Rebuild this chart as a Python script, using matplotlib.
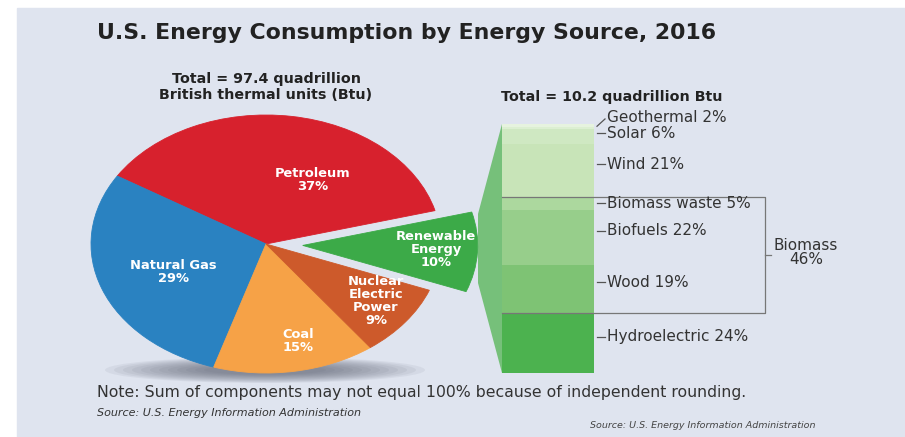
import matplotlib
matplotlib.use("Agg")
import matplotlib.pyplot as plt
import numpy as np
from matplotlib.patches import Rectangle, Ellipse, Polygon
from matplotlib.transforms import blended_transform_factory

# data
sources = ["Petroleum", "Natural Gas", "Coal", "Nuclear\nElectric\nPower", "Renewable\nEnergy"]
shares = [37, 29, 15, 9, 10]
pie_colors = ["#d7212d", "#2a82c1", "#f6a247", "#cd5a2b", "#3caa48"]

renew_names = ["Geothermal", "Solar", "Wind", "Biomass waste", "Biofuels", "Wood", "Hydroelectric"]
renew_shares = [2, 6, 21, 5, 22, 19, 24]
renew_colors = ["#dcefd2", "#cfe8c2", "#c8e4b8", "#acd89e", "#97ce8b", "#7ec374", "#4cb24f"]
biomass_total = 46

W, H = 905, 437
BG = "#dfe4ef"

fig = plt.figure(figsize=(W / 100, H / 100), dpi=100)
fig.patch.set_facecolor("white")

# background axes in pixel coords
ax = fig.add_axes([0, 0, 1, 1])
ax.set_xlim(0, W)
ax.set_ylim(H, 0)
ax.axis("off")
ax.add_patch(Rectangle((17, 8), W - 17, H - 8, color=BG, zorder=0))

# soft shadow below the pie
for i in range(12):
    ax.add_patch(Ellipse((265, 370), 320 - i * 18, 26 - i * 1.5,
                         color="#4f5464", alpha=0.07, lw=0, zorder=1))

# pie, squashed into an ellipse
cx, cy, rx, ry = 266, 244, 175, 129
pax = fig.add_axes([0, 0, 1, 1], zorder=2)
pax.pie(shares, colors=pie_colors, startangle=15, counterclock=True,
        explode=[0, 0, 0, 0, 0.21], wedgeprops=dict(linewidth=0.6))
for w in pax.patches:
    w.set_edgecolor(w.get_facecolor())
pax.set_aspect("auto")
pax.set_xlim(-cx / rx, (W - cx) / rx)
pax.set_ylim((cy - H) / ry, cy / ry)
pax.axis("off")

# connector from renewable wedge to the bar
bx0, bx1, by0, by1 = 502, 594, 124, 373
ax.add_patch(Polygon([(478, 214), (bx0, by0), (bx0, by1), (478, 283)],
                     closed=True, color="#76c07a", lw=0, zorder=1.5))

# stacked bar of renewable breakdown
bax = fig.add_axes([bx0 / W, 1 - by1 / H, (bx1 - bx0) / W, (by1 - by0) / H], zorder=3)
bottoms = np.concatenate([[0], np.cumsum(renew_shares)[:-1]])
bax.bar(0, renew_shares, bottom=bottoms, width=1, color=renew_colors, linewidth=0)
bax.set_xlim(-0.5, 0.5)
bax.set_ylim(sum(renew_shares), 0)
bax.axis("off")
bax.add_patch(Rectangle((-0.5, 0), 1, 1.2, color="#e6f3df", lw=0))

# overlay axes for text and lines
tax = fig.add_axes([0, 0, 1, 1], zorder=10)
tax.set_xlim(0, W)
tax.set_ylim(H, 0)
tax.axis("off")

# pie labels
lab_pos = [(313, 180), (173, 272), (298, 341), (376, 301), (436, 250)]
for name, val, (x, y) in zip(sources, shares, lab_pos):
    tax.text(x, y, f"{name}\n{val}%", color="white", fontsize=9.4, fontweight="bold",
             ha="center", va="center", linespacing=1.0)

# labels on the bar
tr = blended_transform_factory(tax.transData, bax.transData)
centers = bottoms + np.array(renew_shares) / 2
lab_y = list(centers - 2.5)
lab_y[0] = -2.6
lab_y[1] = 3.6
lab_y[3] = centers[3]
for i, (name, val) in enumerate(zip(renew_names, renew_shares)):
    y = lab_y[i]
    if i == 0:
        tax.plot([597, 605], [0.9, -2.0], color="#555", lw=0.9, transform=tr)
    else:
        tax.plot([597, 605], [y, y], color="#555", lw=0.9, transform=tr)
    tax.text(607, y, f"{name} {val}%", transform=tr, fontsize=11, color="#333",
             va="center", ha="left")

# biomass bracket
b_top = bottoms[3]
b_bot = bottoms[5] + renew_shares[5]
tax.plot([bx0, 765, 765, bx0], [b_top, b_top, b_bot, b_bot], color="#777",
         lw=0.9, transform=tr)
b_mid = (b_top + b_bot) / 2
tax.plot([765, 771], [b_mid, b_mid], color="#777", lw=0.9, transform=tr)
tax.text(806, b_mid - 1, f"Biomass\n{biomass_total}%", transform=tr, fontsize=11,
         color="#333", ha="center", va="center", linespacing=0.95)

# titles and notes
tax.text(97, 33, "U.S. Energy Consumption by Energy Source, 2016", fontsize=15.8,
         fontweight="bold", color="#222", va="center", ha="left")
tax.text(266, 87, "Total = 97.4 quadrillion\nBritish thermal units (Btu)", fontsize=10.3,
         fontweight="bold", color="#222", ha="center", va="center", linespacing=1.25)
tax.text(612, 97, "Total = 10.2 quadrillion Btu", fontsize=10.3, fontweight="bold",
         color="#222", ha="center", va="center")
tax.text(97, 393, "Note: Sum of components may not equal 100% because of independent rounding.",
         fontsize=11.3, color="#333", va="center", ha="left")
tax.text(97, 413, "Source: U.S. Energy Information Administration", fontsize=8,
         style="italic", color="#333", va="center", ha="left")
tax.text(590, 426, "Source: U.S. Energy Information Administration", fontsize=6.8,
         style="italic", color="#444", va="center", ha="left")

fig.savefig("out.png", dpi=100, facecolor=fig.get_facecolor())
